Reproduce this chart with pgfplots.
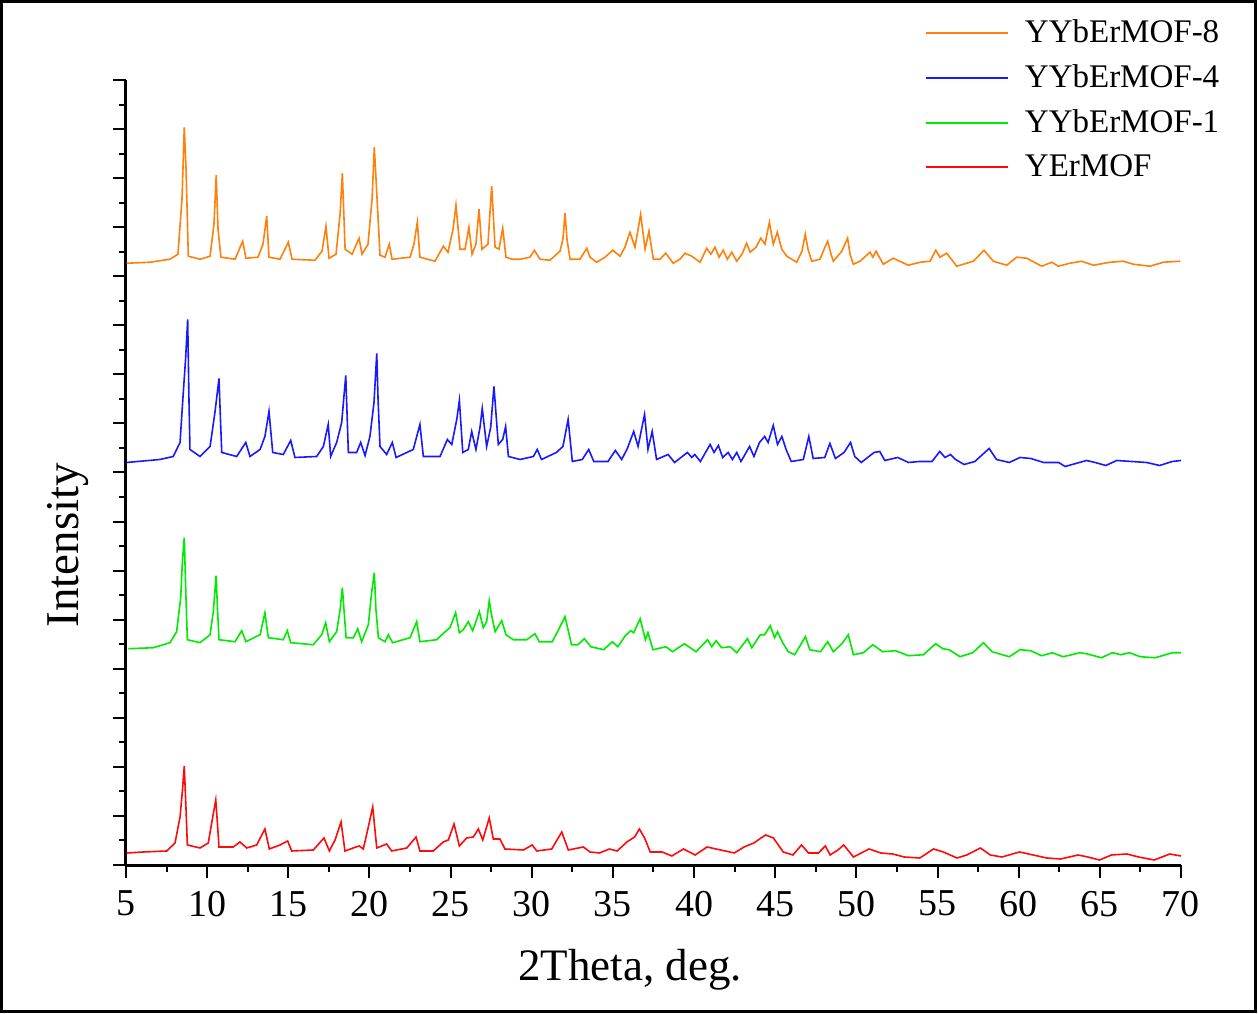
\documentclass[border=0pt]{standalone}
\usepackage{pgfplots}
\pgfplotsset{compat=1.18}
\usepackage{fontspec}
\setmainfont{Liberation Serif}
\definecolor{cOrange}{RGB}{255,128,10}
\definecolor{cBlue}{RGB}{25,25,255}
\definecolor{cGreen}{RGB}{0,235,0}
\definecolor{cRed}{RGB}{255,10,10}
\begin{document}
\begin{tikzpicture}
\useasboundingbox (-63pt,-74pt) rectangle (566pt,432.5pt);
\draw[line width=1.3pt] (-62.35pt,-73.35pt) rectangle (564.8pt,431.85pt);
\begin{axis}[
  scale only axis,
  width=527.5pt, height=392.5pt,
  xmin=5, xmax=70, ymin=0, ymax=784,
  axis x line*=bottom, axis y line*=left,
  axis line style={line width=1.5pt},
  tick align=outside,
  xtick={5,10,...,70},
  minor xtick={7.5,12.5,...,67.5},
  ytick={0,49,...,784},
  minor ytick={24.5,73.5,...,759.5},
  yticklabels={},
  major tick length=6.5pt, minor tick length=3.5pt,
  every tick/.style={line width=1pt, black},
  /pgf/number format/assume math mode=true,
  xticklabel style={font=\fontsize{19}{22}\selectfont, yshift=-3pt},
  xlabel={2Theta, deg.},
  ylabel={Intensity},
  xlabel style={font=\fontsize{22.5}{26}\selectfont, at={(axis description cs:0.478,-0.1338)}, anchor=center},
  ylabel style={font=\fontsize{23.5}{27}\selectfont, at={(axis description cs:-0.055,0.4076)}, anchor=center},
  legend style={at={(axis description cs:0.757,1.082)}, anchor=north west, draw=none, fill=none,
    font=\fontsize{16.5}{19}\selectfont, row sep=5.5pt, inner sep=0pt},
  legend cell align=left,
  legend image code/.code={\draw[#1, line width=1.1pt] (0pt,0pt) -- (41pt,0pt); \path (47pt,0pt);},
  every axis plot/.append style={line width=0.8pt},
  clip=false,
]
\addplot[cOrange] coordinates {
(5.04,601)(6.48,602)(7.71,605)(8.20,610)(8.45,665)(8.59,736.7)(8.70,695)(8.84,608)(9.56,605)(10.18,608)(10.42,640)(10.56,689)(10.67,635)(10.85,607)(11.72,605)(12.19,623)(12.39,606)(13.13,607)(13.44,620)(13.67,648)(13.81,607)(14.49,605)(15.0,622)(15.23,605)(16.64,604)(17.08,613)(17.32,638)(17.51,606)(17.94,610)(18.19,650)(18.33,691)(18.50,615)(18.93,610)(19.36,626)(19.54,610)(19.91,620)(20.16,665)(20.30,717)(20.47,665)(20.65,609)(20.96,607)(21.22,620)(21.39,605)(22.50,607)(22.74,620)(22.95,642)(23.11,607)(24.04,603)(24.55,618)(24.84,612)(25.15,635)(25.33,659)(25.58,615)(25.89,615)(26.13,637)(26.32,610)(26.56,620)(26.75,655)(26.93,615)(27.30,620)(27.53,678)(27.74,617)(27.98,615)(28.21,636)(28.41,607)(28.78,605)(29.28,605)(29.89,607)(30.16,614)(30.51,605)(31.12,604)(31.74,613)(31.92,625)(32.05,651)(32.17,625)(32.36,605)(32.97,605)(33.39,616)(33.59,607)(34.0,602)(34.51,607)(34.99,614)(35.44,608)(35.74,617)(36.05,632)(36.36,617)(36.71,650)(36.98,615)(37.22,633)(37.49,605)(37.90,605)(38.25,611)(38.72,601)(39.13,605)(39.44,611)(39.86,608)(40.37,602)(40.78,616)(41.03,610)(41.29,617)(41.54,607)(41.80,614)(42.05,605)(42.32,612)(42.63,603)(42.95,610)(43.24,621)(43.45,612)(43.82,617)(44.11,626)(44.37,620)(44.64,642)(44.88,620)(45.13,632)(45.40,615)(45.71,608)(46.32,602)(46.65,613)(46.85,630)(47.02,615)(47.25,603)(47.76,605)(48.01,615)(48.23,623)(48.44,610)(48.58,603)(49.10,613)(49.46,626)(49.61,610)(49.81,600)(50.22,603)(50.84,612)(51.02,607)(51.21,613)(51.66,600)(52.27,606)(53.20,599)(53.92,602)(54.54,603)(54.89,614)(55.15,607)(55.57,611)(56.18,598)(57.21,603)(57.86,614)(58.44,603)(59.26,599)(59.88,607)(60.50,606)(61.42,598)(62.04,602)(62.44,598)(63.16,601)(63.88,603)(64.60,599)(65.63,602)(66.45,603)(67.06,600)(68.09,598)(68.91,602)(69.94,603)
};
\addlegendentry{YYbErMOF-8}
\addplot[cBlue] coordinates {
(5.04,402)(7.09,405)(7.91,408)(8.33,422)(8.53,472)(8.67,505)(8.80,545)(8.88,465)(8.94,415)(9.56,408)(10.18,418)(10.48,452)(10.73,486)(10.82,445)(10.90,412)(11.82,408)(12.38,422)(12.64,408)(13.26,415)(13.56,428)(13.81,453)(14.04,412)(14.69,410)(15.15,424)(15.41,407)(16.75,408)(17.16,418)(17.46,440)(17.61,408)(17.98,422)(18.29,442)(18.54,489)(18.70,412)(19.21,412)(19.46,422)(19.73,409)(20.03,428)(20.28,462)(20.45,511)(20.53,465)(20.65,418)(21.06,410)(21.41,422)(21.64,407)(22.70,415)(23.11,440)(23.32,408)(24.35,408)(24.80,425)(25.07,420)(25.38,445)(25.54,464)(25.75,412)(26.09,415)(26.30,433)(26.56,415)(26.81,437)(26.95,456)(27.22,418)(27.47,437)(27.67,478)(27.94,420)(28.21,425)(28.39,438)(28.56,408)(29.28,405)(30.10,408)(30.34,415)(30.60,405)(31.52,412)(31.92,418)(32.24,445)(32.50,403)(33.11,405)(33.51,415)(33.82,403)(34.70,403)(35.15,414)(35.54,405)(35.89,416)(36.28,433)(36.55,418)(36.95,450)(37.16,415)(37.42,433)(37.69,405)(38.40,410)(38.80,402)(39.59,412)(39.86,407)(40.04,410)(40.39,403)(40.99,420)(41.23,412)(41.50,419)(41.76,407)(42.10,412)(42.36,405)(42.63,412)(42.89,403)(43.42,418)(43.69,408)(44.03,422)(44.35,428)(44.56,422)(44.88,439)(45.14,420)(45.41,428)(45.67,415)(45.99,403)(46.73,405)(47.07,428)(47.34,406)(48.05,407)(48.37,421)(48.71,406)(49.24,412)(49.64,422)(49.90,408)(50.30,402)(51.09,412)(51.44,413)(51.75,404)(52.55,407)(53.21,402)(53.87,403)(54.66,403)(55.14,413)(55.46,407)(55.80,410)(56.11,405)(56.64,400)(57.30,403)(58.18,416)(58.63,405)(59.42,402)(60.08,407)(60.74,406)(61.54,402)(62.46,402)(62.86,398)(64.18,404)(64.71,402)(65.37,399)(66.04,404)(66.96,403)(67.88,402)(68.68,399)(69.47,403)(70.0,404)
};
\addlegendentry{YYbErMOF-4}
\addplot[cGreen] coordinates {
(5.14,216)(6.68,217)(7.71,222)(8.12,233)(8.37,267)(8.48,305)(8.59,327)(8.70,265)(8.78,225)(9.56,222)(10.18,230)(10.38,253)(10.55,289)(10.64,255)(10.73,225)(11.72,223)(12.13,234)(12.39,223)(13.26,230)(13.56,252)(13.77,227)(14.69,225)(14.94,234)(15.15,222)(16.54,220)(17.06,230)(17.30,242)(17.53,223)(17.98,233)(18.19,255)(18.33,277)(18.56,227)(19.01,227)(19.28,236)(19.52,223)(19.93,240)(20.14,273)(20.30,292)(20.40,255)(20.55,227)(20.96,223)(21.16,230)(21.43,222)(22.50,227)(22.91,243)(23.11,223)(24.14,225)(24.66,233)(24.96,237)(25.31,252)(25.54,232)(25.78,235)(26.09,243)(26.36,234)(26.56,243)(26.77,253)(27.01,237)(27.22,243)(27.38,264)(27.52,250)(27.74,233)(28.15,244)(28.41,230)(28.86,225)(29.69,225)(30.20,231)(30.46,223)(31.26,223)(31.65,235)(32.05,248)(32.45,220)(32.84,220)(33.24,226)(33.64,218)(34.43,215)(34.96,223)(35.31,218)(35.76,229)(36.10,234)(36.28,232)(36.68,246)(37.0,225)(37.16,232)(37.47,215)(38.27,218)(38.67,213)(39.40,221)(40.12,213)(40.83,225)(41.09,218)(41.36,224)(41.70,217)(42.23,218)(42.63,212)(43.29,226)(43.56,217)(44.08,230)(44.35,230)(44.69,239)(44.96,227)(45.14,233)(45.46,222)(45.80,213)(46.20,210)(46.86,228)(47.13,215)(47.79,213)(48.23,223)(48.58,213)(49.11,221)(49.50,230)(49.82,210)(50.43,212)(51.01,220)(51.62,213)(52.41,214)(53.21,209)(54.13,210)(54.88,221)(55.33,216)(55.72,215)(56.38,208)(57.17,212)(57.83,222)(58.36,213)(59.42,208)(60.08,215)(60.74,214)(61.41,209)(62.07,212)(62.73,208)(63.78,212)(64.18,211)(65.10,207)(65.77,212)(66.30,210)(66.82,212)(67.49,208)(68.41,207)(69.47,212)(70.0,212)
};
\addlegendentry{YYbErMOF-1}
\addplot[cRed] coordinates {
(5.04,12)(6.07,13)(7.51,14)(8.02,22)(8.33,48)(8.48,75)(8.59,99)(8.70,55)(8.78,20)(9.56,17)(10.07,22)(10.28,42)(10.53,65)(10.64,40)(10.73,18)(11.61,18)(12.02,23)(12.44,17)(13.05,20)(13.56,36)(13.83,16)(14.49,20)(14.96,24)(15.21,14)(16.54,15)(17.20,27)(17.53,14)(17.88,25)(18.25,43)(18.49,14)(19.0,17)(19.37,19)(19.62,16)(19.93,38)(20.20,58)(20.45,17)(21.06,21)(21.37,14)(22.30,17)(22.87,28)(23.11,14)(23.93,14)(24.55,23)(24.86,25)(25.21,41)(25.54,19)(25.99,27)(26.40,28)(26.71,36)(26.98,25)(27.38,47)(27.63,26)(28.04,26)(28.35,16)(29.48,15)(30.03,20)(30.31,14)(31.23,16)(31.85,33)(32.25,15)(33.18,18)(33.59,13)(34.17,12)(34.78,16)(35.26,14)(35.86,23)(36.34,28)(36.63,36)(36.95,27)(37.30,13)(38.03,13)(38.63,9)(39.35,16)(40.07,10)(40.80,18)(41.63,15)(42.48,12)(43.08,18)(43.68,22)(44.40,30)(44.89,27)(45.49,13)(46.09,10)(46.62,20)(47.05,12)(47.66,12)(48.09,19)(48.38,10)(48.86,15)(49.22,20)(49.82,8)(50.78,16)(51.51,12)(52.23,11)(52.95,8)(53.91,7)(54.75,16)(55.36,13)(56.20,7)(56.80,10)(57.64,17)(58.25,10)(58.97,8)(60.05,13)(60.89,10)(61.73,7)(62.58,6)(63.66,10)(64.26,8)(64.98,5)(65.71,10)(66.67,11)(67.39,8)(68.35,5)(69.31,11)(70.0,9)
};
\addlegendentry{YErMOF}
\end{axis}
\end{tikzpicture}
\end{document}
